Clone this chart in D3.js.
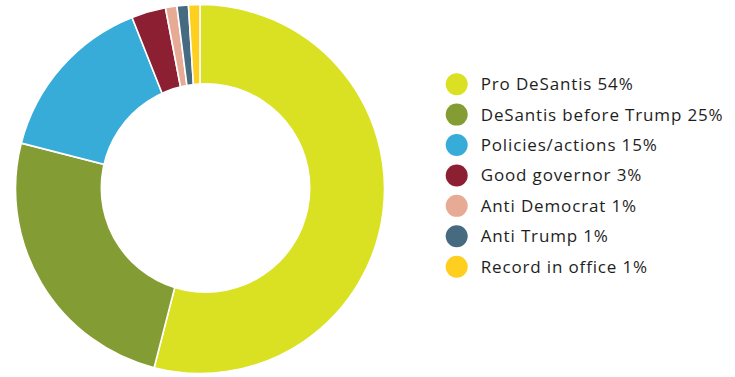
<!DOCTYPE html>
<html>
<head>
<meta charset="utf-8">
<script src="https://cdn.jsdelivr.net/npm/d3@7"></script>
<style>
  html, body { margin: 0; padding: 0; background: #fff; }
  svg { display: block; }
  .legend text { font-family: "Open Sans", sans-serif; font-size: 17px; letter-spacing: 0.85px; fill: #1e1e1e; }
</style>
</head>
<body>
<svg id="chart" width="735" height="377"></svg>
<script>
// Reasons given for supporting DeSantis (share of respondents, %)
const categories = [
  "Pro DeSantis",
  "DeSantis before Trump",
  "Policies/actions",
  "Good governor",
  "Anti Democrat",
  "Anti Trump",
  "Record in office"
];
const shares = [54, 25, 15, 3, 1, 1, 1];
const colors = ["#d9e122", "#849c34", "#38acd8", "#8c1f32", "#e7aa95", "#466a80", "#fecf1f"];

const data = categories.map((name, i) => ({ name, value: shares[i], color: colors[i] }));

const svg = d3.select("#chart");
const cx = 200, cy = 189;
const outerR = 184.5;

const pie = d3.pie().value(d => d.value).sort(null);
const arc = d3.arc().innerRadius(0).outerRadius(outerR);

const ring = svg.append("g").attr("transform", `translate(${cx},${cy})`);
ring.selectAll("path")
  .data(pie(data))
  .join("path")
  .attr("d", arc)
  .attr("fill", d => d.data.color)
  .attr("stroke", "#fff")
  .attr("stroke-width", 1.6)
  .attr("stroke-linejoin", "round");

// white hole of the donut
ring.append("circle")
  .attr("cx", 5.5)
  .attr("cy", -1)
  .attr("r", 105)
  .attr("fill", "#fff");

// Legend
const legendY = d3.scalePoint()
  .domain(categories)
  .range([84.2, 266.7]);

const legend = svg.append("g").attr("class", "legend");
const rows = legend.selectAll("g")
  .data(data)
  .join("g")
  .attr("transform", d => `translate(456.7,${legendY(d.name)})`);

rows.append("circle")
  .attr("r", 11)
  .attr("fill", d => d.color);

rows.append("text")
  .attr("x", 24)
  .attr("y", 6)
  .text(d => `${d.name} ${d.value}%`);
</script>
</body>
</html>
